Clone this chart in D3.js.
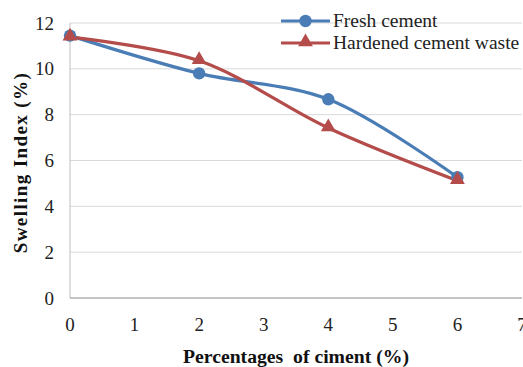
<!DOCTYPE html>
<html>
<head>
<meta charset="utf-8">
<script src="https://cdn.jsdelivr.net/npm/d3@7"></script>
</head>
<body style="margin:0;background:#fff">
<div id="chart"></div>
<script>
const xTicks = [0, 1, 2, 3, 4, 5, 6, 7];
const yTicks = [0, 2, 4, 6, 8, 10, 12];
const cementPct = [0, 2, 4, 6];
const freshCement = [11.45, 9.8, 8.67, 5.27];
const hardenedWaste = [11.38, 10.35, 7.42, 5.12];

const seriesList = [
  { name: "Fresh cement", values: freshCement, color: "#4a7db5", marker: "circle" },
  { name: "Hardened cement waste", values: hardenedWaste, color: "#b34c4a", marker: "triangle" }
];

const width = 523, height = 367;
const margin = { top: 23, right: 1, bottom: 69, left: 70 };
const serif = '"Liberation Serif"';

const svg = d3.select("#chart").append("svg")
  .attr("width", width).attr("height", height);

const x = d3.scaleLinear().domain([0, 7]).range([margin.left, width - margin.right]);
const y = d3.scaleLinear().domain([0, 12]).range([height - margin.bottom, margin.top]);

// gridlines
svg.append("g").selectAll("line").data(yTicks.filter(d => d > 0)).join("line")
  .attr("x1", x(0)).attr("x2", x(7))
  .attr("y1", d => y(d)).attr("y2", d => y(d))
  .attr("stroke", "#d9d9d9").attr("stroke-width", 1);

// axes
svg.append("line").attr("x1", x(0)).attr("x2", x(0)).attr("y1", y(12)).attr("y2", y(0))
  .attr("stroke", "#bfbfbf").attr("stroke-width", 1);
svg.append("line").attr("x1", x(0)).attr("x2", x(7)).attr("y1", y(0)).attr("y2", y(0))
  .attr("stroke", "#8c8c8c").attr("stroke-width", 1.2);

svg.append("g").selectAll("text").data(yTicks).join("text")
  .attr("x", x(0) - 16).attr("y", d => y(d)).attr("dy", "0.35em")
  .attr("text-anchor", "end").attr("fill", "#222")
  .style("font-family", serif).style("font-size", "19px")
  .text(d => d);

svg.append("g").selectAll("text").data(xTicks).join("text")
  .attr("x", d => x(d)).attr("y", y(0) + 26).attr("dy", "0.35em")
  .attr("text-anchor", "middle").attr("fill", "#222")
  .style("font-family", serif).style("font-size", "19px")
  .text(d => d);

// axis titles
svg.append("text")
  .attr("x", (x(0) + x(7)) / 2).attr("y", 363)
  .attr("text-anchor", "middle").attr("fill", "#111")
  .style("font-family", serif).style("font-size", "19.7px").style("font-weight", "bold")
  .style("white-space", "pre")
  .text("Percentages  of ciment (%)");

svg.append("text")
  .attr("transform", `translate(27,${(y(0) + y(12)) / 2 + 2}) rotate(-90)`)
  .attr("text-anchor", "middle").attr("fill", "#111")
  .style("font-family", serif).style("font-size", "19px").style("font-weight", "bold")
  .style("letter-spacing", "1.4px")
  .text("Swelling Index (%)");

// lines
const line = d3.line()
  .x((d, i) => x(cementPct[i]))
  .y(d => y(d))
  .curve(d3.curveCatmullRom.alpha(0.5));

const tri = d3.symbol().type(d3.symbolTriangle).size(95);

seriesList.forEach(s => {
  svg.append("path").datum(s.values)
    .attr("d", line)
    .attr("fill", "none").attr("stroke", s.color).attr("stroke-width", 3.2)
    .attr("stroke-linejoin", "round");
});

seriesList.forEach(s => {
  const g = svg.append("g");
  if (s.marker === "circle") {
    g.selectAll("circle").data(s.values).join("circle")
      .attr("cx", (d, i) => x(cementPct[i])).attr("cy", d => y(d))
      .attr("r", 6.2).attr("fill", s.color);
  } else {
    g.selectAll("path").data(s.values).join("path")
      .attr("d", tri)
      .attr("transform", (d, i) => `translate(${x(cementPct[i])},${y(d) - 1})`)
      .attr("fill", s.color);
  }
});

// legend
const legend = svg.append("g").attr("transform", "translate(281,21)");
seriesList.forEach((s, i) => {
  const row = legend.append("g").attr("transform", `translate(0,${i * 22})`);
  row.append("line").attr("x1", 0).attr("x2", 49).attr("y1", 0).attr("y2", 0)
    .attr("stroke", s.color).attr("stroke-width", 3.2);
  if (s.marker === "circle") {
    row.append("circle").attr("cx", 24.5).attr("cy", 0).attr("r", 6.2).attr("fill", s.color);
  } else {
    row.append("path").attr("d", tri).attr("transform", "translate(24.5,-1)").attr("fill", s.color);
  }
  row.append("text").attr("x", 52).attr("y", 0).attr("dy", "0.32em").attr("fill", "#222")
    .style("font-family", serif).style("font-size", "19.5px").text(s.name);
});
</script>
</body>
</html>
